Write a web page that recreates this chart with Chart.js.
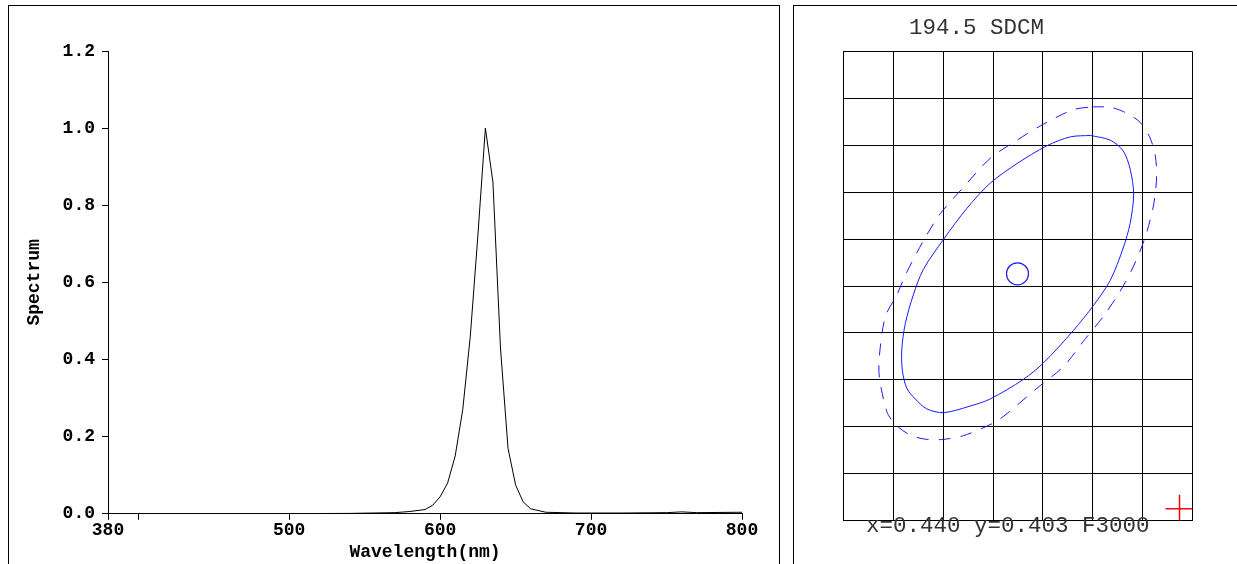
<!DOCTYPE html>
<html>
<head>
<meta charset="utf-8">
<script src="https://cdn.jsdelivr.net/npm/chart.js@4"></script>
<style>
  body { margin: 0; background: #fff; width: 1237px; height: 564px; overflow: hidden; position: relative; }
  .panel { position: absolute; border: 1px solid #000; border-bottom: none; box-sizing: border-box; }
  #leftPanel { left: 8px; top: 5px; width: 772px; height: 570px; }
  #rightPanel { left: 793px; top: 5px; width: 460px; height: 570px; }
  .box { position: absolute; }
  .txt { position: absolute; font-family: "Liberation Mono", monospace; color: #333; font-size: 22.5px; white-space: nowrap; }
</style>
</head>
<body>
<div class="panel" id="leftPanel"></div>
<div class="panel" id="rightPanel"></div>
<div class="box" style="left:0;top:0;width:780px;height:564px;"><canvas id="spectrum"></canvas></div>
<div class="box" style="left:828px;top:36px;width:380px;height:500px;"><canvas id="cie"></canvas></div>
<div class="txt" style="left:909px;top:15px;">194.5 SDCM</div>
<div class="txt" style="left:866px;top:513px;">x=0.440 y=0.403 F3000</div>
<script>
// spectrum
const wavelengths = [380, 450, 540, 570, 580, 590, 595, 600, 605, 610, 615, 620, 625, 630, 635, 640, 645, 650, 655, 660, 670, 690, 720, 750, 760, 770, 800];
const spectrum    = [0.0, 0.0, 0.001, 0.003, 0.006, 0.011, 0.022, 0.044, 0.08, 0.15, 0.27, 0.46, 0.72, 1.0, 0.86, 0.43, 0.17, 0.075, 0.031, 0.013, 0.004, 0.002, 0.002, 0.003, 0.005, 0.003, 0.004];
const xTicks = [380, 400, 500, 600, 700, 800];
const xLabels = ['380', '', '500', '600', '700', '800'];

// ellipses in grid-cell units (7 x 10 grid)
const solidU = [4.95, 5.35, 5.61, 5.75, 5.82, 5.75, 5.61, 5.35, 5.01, 4.61, 4.01, 3.61, 2.94, 2.54, 2.01, 1.67, 1.44, 1.27, 1.18, 1.17, 1.24, 1.40, 1.60, 2.01, 2.47, 2.94, 3.48, 4.08, 4.55, 4.95];
const solidV = [8.21, 8.11, 7.88, 7.49, 6.96, 6.34, 5.81, 5.12, 4.58, 4.05, 3.36, 3.01, 2.59, 2.44, 2.30, 2.38, 2.59, 2.82, 3.20, 3.66, 4.20, 4.81, 5.35, 6.00, 6.65, 7.19, 7.61, 7.99, 8.18, 8.21];
const dashU = [4.98, 5.35, 5.65, 5.95, 6.14, 6.25, 6.28, 6.22, 6.05, 5.82, 5.55, 5.21, 4.81, 4.41, 3.88, 3.28, 3.01, 2.41, 2.01, 1.67, 1.34, 1.04, 0.87, 0.72, 0.72, 0.84, 1.07, 1.24, 1.60, 1.94, 2.41, 2.94, 3.48, 4.01, 4.61, 4.98];
const dashV = [8.82, 8.81, 8.70, 8.49, 8.18, 7.80, 7.34, 6.73, 6.04, 5.43, 4.89, 4.35, 3.82, 3.28, 2.82, 2.28, 2.08, 1.81, 1.73, 1.73, 1.82, 2.05, 2.32, 3.05, 3.51, 4.35, 4.81, 5.23, 5.96, 6.54, 7.11, 7.72, 8.11, 8.45, 8.76, 8.82];
const centerPoint = [3.49, 5.26];
const targetPoint = [6.74, 0.25];

const pts = (xs, ys) => xs.map((x, i) => ({ x: x, y: ys[i] }));
const monoBold = { family: '"Liberation Mono", monospace', size: 18, weight: 'bold' };

new Chart(document.getElementById('spectrum'), {
    type: 'scatter',
    data: {
        datasets: [{
            data: pts(wavelengths, spectrum),
            showLine: true,
            borderColor: '#000',
            borderWidth: 1,
            pointRadius: 0,
            tension: 0
        }]
    },
    options: {
        responsive: true,
        maintainAspectRatio: false,
        animation: false,
        layout: { padding: { left: 14, right: 38, top: 51, bottom: 1 } },
        plugins: { legend: { display: false }, tooltip: { enabled: false } },
        scales: {
            x: {
                min: 380, max: 800,
                afterBuildTicks: axis => { axis.ticks = xTicks.map(v => ({ value: v })); },
                ticks: { color: '#000', font: monoBold, maxRotation: 0, padding: 0, callback: (v, i) => xLabels[i] },
                grid: { drawOnChartArea: false, color: '#000', tickLength: 6 },
                border: { color: '#000' },
                title: { display: true, text: 'Wavelength(nm)', color: '#000', font: monoBold, padding: 0 }
            },
            y: {
                min: 0, max: 1.2,
                ticks: { stepSize: 0.2, color: '#000', font: monoBold, padding: 7, callback: v => v.toFixed(1) },
                grid: { drawOnChartArea: false, color: '#000', tickLength: 6 },
                border: { color: '#000' },
                title: { display: true, text: 'Spectrum', color: '#000', font: monoBold, padding: 10 }
            }
        }
    }
});

new Chart(document.getElementById('cie'), {
    type: 'scatter',
    data: {
        datasets: [
            { data: pts(solidU, solidV), showLine: true, borderColor: '#1a1aff', borderWidth: 1, pointRadius: 0, tension: 0.3 },
            { data: pts(dashU, dashV), showLine: true, borderColor: '#1a1aff', borderWidth: 1, borderDash: [12, 10], pointRadius: 0, tension: 0.3 },
            { data: [{ x: centerPoint[0], y: centerPoint[1] }], pointRadius: 11, pointBorderColor: '#1a1aff', pointBackgroundColor: 'rgba(0,0,0,0)', pointBorderWidth: 1.2 },
            { data: [{ x: targetPoint[0], y: targetPoint[1] }], pointStyle: 'cross', pointRadius: 14, pointBorderColor: '#ff0000', pointBorderWidth: 1.5 }
        ]
    },
    options: {
        responsive: true,
        maintainAspectRatio: false,
        animation: false,
        layout: { padding: 5 },
        plugins: { legend: { display: false }, tooltip: { enabled: false } },
        scales: {
            x: { min: 0, max: 7, ticks: { display: false, stepSize: 1 }, grid: { color: '#000', tickLength: 0 }, border: { color: '#000' } },
            y: { min: 0, max: 10, ticks: { display: false, stepSize: 1 }, grid: { color: '#000', tickLength: 0 }, border: { color: '#000' } }
        }
    }
});
</script>
</body>
</html>
